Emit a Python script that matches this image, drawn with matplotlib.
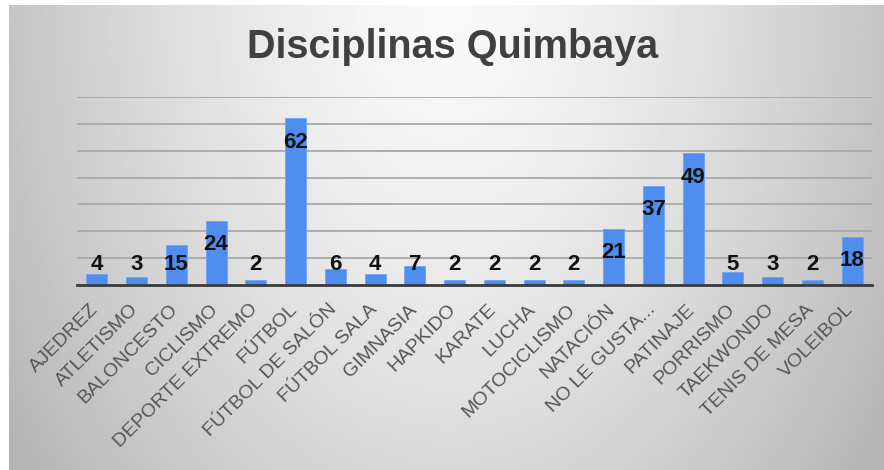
import numpy as np
import matplotlib
matplotlib.use("Agg")
import matplotlib.pyplot as plt
import matplotlib.transforms as mtransforms

plt.rcParams["font.family"] = ["Liberation Sans", "DejaVu Sans"]

categories = ["AJEDREZ", "ATLETISMO", "BALONCESTO", "CICLISMO", "DEPORTE EXTREMO",
              "FÚTBOL", "FÚTBOL DE SALÓN", "FÚTBOL SALA", "GIMNASIA", "HAPKIDO",
              "KARATE", "LUCHA", "MOTOCICLISMO", "NATACIÓN", "NO LE GUSTA...",
              "PATINAJE", "PORRISMO", "TAEKWONDO", "TENIS DE MESA", "VOLEIBOL"]
values = [4, 3, 15, 24, 2, 62, 6, 4, 7, 2, 2, 2, 2, 21, 37, 49, 5, 3, 2, 18]
title = "Disciplinas Quimbaya"

fig = plt.figure(figsize=(8.84, 4.70), dpi=100)

# grey gradient background (lighter at top centre)
bg = fig.add_axes([9 / 884, 0, 875 / 884, 465 / 470], zorder=-10)
gx, gy = np.meshgrid(np.linspace(-1, 1, 400), np.linspace(0, 1, 220))
r = np.sqrt((gx / 1.0) ** 2 + (gy / 1.4) ** 2)
shade = 0.98 - 0.21 * np.clip(r, 0, 1.2) ** 1.4
bg.imshow(shade, cmap="gray", vmin=0, vmax=1, aspect="auto",
          extent=[0, 1, 0, 1], origin="upper")
bg.axis("off")

ax = fig.add_axes([77 / 884, (470 - 285) / 470, 795 / 884, 188 / 470])
ax.patch.set_alpha(0)

x = np.arange(len(categories))
ax.bar(x, values, width=0.53, color="#4F8EEE", edgecolor="#6FA3F2",
       linewidth=0.6, zorder=3)

for xi, v in zip(x, values):
    ax.text(xi, max(v - 8.8, 7.5), str(v), ha="center", va="center",
            fontsize=16, fontweight="bold", color="#111111", zorder=4)

ax.set_xlim(-0.5, len(categories) - 0.5)
ax.set_ylim(0, 70)
ax.set_yticks(range(10, 71, 10))
ax.yaxis.grid(True, color="#a8a8a8", linewidth=1.3, zorder=1)
ax.tick_params(axis="y", left=False, labelleft=False)
ax.tick_params(axis="x", length=0, pad=5)
for s in ["top", "right", "left"]:
    ax.spines[s].set_visible(False)
ax.spines["bottom"].set_color("#3a3a3a")
ax.spines["bottom"].set_linewidth(2)
ax.spines["bottom"].set_zorder(5)

ax.set_xticks(x)
ax.set_xticklabels(categories, rotation=45, ha="right", rotation_mode="anchor",
                   fontsize=14, color="#555555")
shift = mtransforms.ScaledTranslation(-0.07, -0.09, fig.dpi_scale_trans)
for lbl in ax.get_xticklabels():
    lbl.set_transform(lbl.get_transform() + shift)

fig.text(453 / 884, (470 - 47) / 470, title, ha="center", va="center",
         fontsize=28.5, fontweight="bold", color="#404040")

fig.savefig("out.png", dpi=100, facecolor="white")
